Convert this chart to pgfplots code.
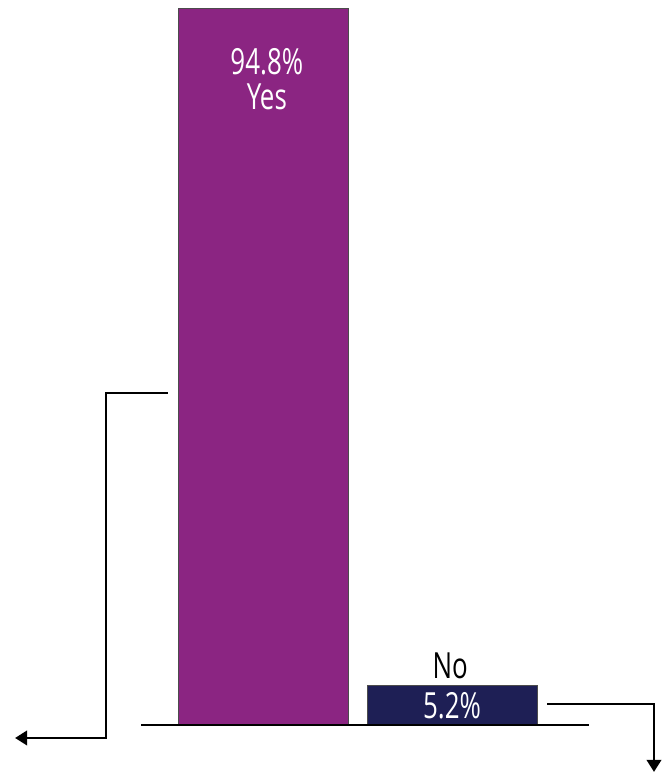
\documentclass[border=0pt]{standalone}
\usepackage{pgfplots}
\pgfplotsset{compat=1.18}
\usetikzlibrary{arrows.meta}
\usepackage{fontspec}
\setmainfont[FakeStretch=0.72]{Open Sans}
\definecolor{yescol}{RGB}{139,37,130}
\definecolor{nocol}{RGB}{30,31,85}
\begin{document}
\begin{tikzpicture}
\begin{axis}[
  scale only axis,
  width=503.25pt, height=579.75pt,
  xmin=-1.392, xmax=2.159,
  ymin=-6.35, ymax=95.86,
  hide axis,
  clip=false,
  ybar, bar width=127.5pt,
]
\path (rel axis cs:0,0) (rel axis cs:1,1);
\addplot[fill=yescol, draw=black!70, line width=0.4pt, bar shift=0pt] coordinates {(0,94.8)};
\addplot[fill=nocol, draw=black!70, line width=0.4pt, bar shift=0pt] coordinates {(1,5.2)};
\draw[line width=1.4pt] (axis cs:-0.645,0) -- (axis cs:1.725,0);
\draw[line width=1.4pt, -{Triangle[length=9pt,width=11pt]}] (axis cs:-0.503,43.9) -- (axis cs:-0.831,43.9) -- (axis cs:-0.831,-1.72) -- (axis cs:-1.312,-1.72);
\draw[line width=1.4pt, -{Triangle[length=9pt,width=11pt]}] (axis cs:1.503,2.78) -- (axis cs:2.069,2.78) -- (axis cs:2.069,-6.2);
\node[text=white, font=\fontsize{27}{30}\selectfont, align=center] at (axis cs:0.02,85.4) {94.8\%\\[-4pt]Yes};
\node[text=black, font=\fontsize{27}{30}\selectfont] at (axis cs:0.99,7.8) {No};
\node[text=white, font=\fontsize{27}{30}\selectfont] at (axis cs:1,2.5) {5.2\%};
\end{axis}
\end{tikzpicture}
\end{document}
